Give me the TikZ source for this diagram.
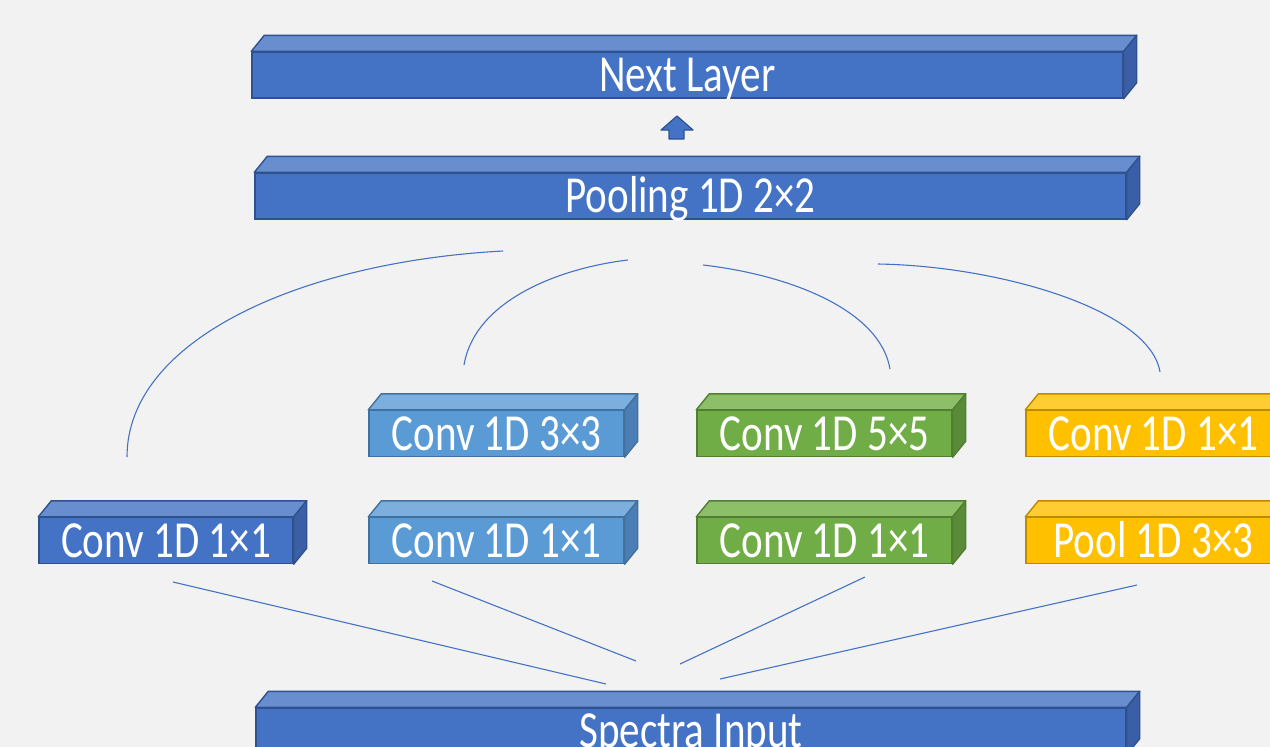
\documentclass[tikz,border=0pt]{standalone}
\usepackage{fontspec}
\setmainfont{Carlito}[FakeStretch=0.79]
\definecolor{bg}{HTML}{F2F2F2}
\definecolor{dbF}{HTML}{4472C4}\definecolor{dbT}{HTML}{698ED0}\definecolor{dbS}{HTML}{3A5FA6}\definecolor{dbB}{HTML}{2F528F}
\definecolor{lbF}{HTML}{5B9BD5}\definecolor{lbT}{HTML}{7CAFDD}\definecolor{lbS}{HTML}{4A7EB4}\definecolor{lbB}{HTML}{41719C}
\definecolor{grF}{HTML}{70AD47}\definecolor{grT}{HTML}{8CBF68}\definecolor{grS}{HTML}{5A8B39}\definecolor{grB}{HTML}{507E32}
\definecolor{yeF}{HTML}{FFC000}\definecolor{yeT}{HTML}{FFCD33}\definecolor{yeS}{HTML}{CC9A00}\definecolor{yeB}{HTML}{BC8C00}
\tikzset{
  face/.style={rectangle, minimum height=46pt, inner sep=0pt, text height=33pt, text depth=0pt,
    line width=1.4pt, text=white, font=\fontsize{52}{60}\selectfont},
  facepart/.style={line width=1.4pt, line join=round},
  link/.style={draw=dbF, line width=1.1pt},
  uparrow/.style={fill=dbF, draw=dbB, line width=1.2pt, line join=round}
}
\newcommand\cubebox[5]{%
  \node[face, minimum width=#3pt, fill=#4F, draw=#4B] (#1) at (#2) {#5};
  \filldraw[fill=#4T, draw=#4B, facepart] (#1.north west) -- ++(13,-16) -- ([shift={(13,-16)}]#1.north east) -- (#1.north east) -- cycle;
  \filldraw[fill=#4S, draw=#4B, facepart] (#1.north east) -- ++(13,-16) -- ([shift={(13,-16)}]#1.south east) -- (#1.south east) -- cycle;
}
\begin{document}
\begin{tikzpicture}[x=1pt, y=-1pt]
\useasboundingbox (0,0) rectangle (1270,747);
\fill[bg] (0,0) rectangle (1270,747);
\clip (0,0) rectangle (1270,747);

\cubebox{next}{687.5,75}{871}{db}{Next Layer}
\cubebox{pool}{690.5,196}{871}{db}{Pooling 1D 2×2}
\cubebox{input}{691,731}{870}{db}{Spectra Input}

\cubebox{ca}{166,540.5}{254}{db}{Conv 1D 1×1}
\cubebox{cb}{496.5,540.5}{255}{lb}{Conv 1D 1×1}
\cubebox{cbb}{496.5,433.5}{255}{lb}{Conv 1D 3×3}
\cubebox{cc}{824.5,540.5}{255}{gr}{Conv 1D 1×1}
\cubebox{ccc}{824.5,433.5}{255}{gr}{Conv 1D 5×5}
\cubebox{cd}{1153.5,540.5}{255}{ye}{Pool 1D 3×3}
\cubebox{cdd}{1153.5,433.5}{255}{ye}{Conv 1D 1×1}

% up arrow between pooling and next layer
\coordinate (tip) at (677,116);
\filldraw[uparrow] (tip) -- ++(16,14) -- ++(-9,0) -- ++(0,9) -- ++(-15,0) -- ++(0,-9) -- ++(-8,0) -- cycle;

% lines from input to first-stage blocks
\coordinate (a1) at (173,582); \coordinate (a2) at (606,684);
\coordinate (b1) at (432,581); \coordinate (b2) at (636,661);
\coordinate (c1) at (865,577); \coordinate (c2) at (680,664);
\coordinate (d1) at (1137,585); \coordinate (d2) at (720,679);
\draw[link] (a1) -- (a2);
\draw[link] (b1) -- (b2);
\draw[link] (c1) -- (c2);
\draw[link] (d1) -- (d2);

% arcs from branches to pooling
\coordinate (e1) at (127,457); \coordinate (e2) at (503,251);
\coordinate (f1) at (464,365); \coordinate (f2) at (628,260);
\coordinate (g1) at (703,265); \coordinate (g2) at (890,369);
\coordinate (h1) at (878,264); \coordinate (h2) at (1160,372);
\draw[link] (e1) .. controls (127,340) and (300,262) .. (e2);
\draw[link] (f1) .. controls (475,300) and (560,268) .. (f2);
\draw[link] (g1) .. controls (790,275) and (880,310) .. (g2);
\draw[link] (h1) .. controls (1000,266) and (1150,310) .. (h2);
\end{tikzpicture}
\end{document}
